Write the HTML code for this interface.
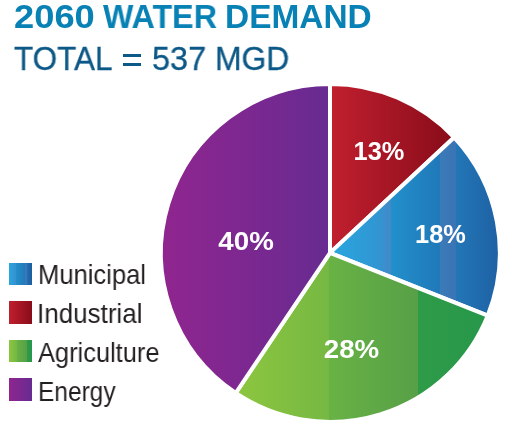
<!DOCTYPE html>
<html><head><meta charset="utf-8">
<style>
html,body{margin:0;padding:0;background:#fff;width:505px;height:422px;overflow:hidden;position:relative;font-family:"Liberation Sans",sans-serif;}
.w{will-change:transform;position:absolute;white-space:nowrap;line-height:1;transform-origin:0 0;}
.t1{font-weight:bold;color:#0881b5;}
.t2{color:#0c5886;-webkit-text-stroke:0.3px #0c5886;}
.lb{color:#231f20;}
.sw{position:absolute;left:9px;width:23px;height:22px;}
svg{position:absolute;left:0;top:0;will-change:transform;}
.pct{font-family:"Liberation Sans",sans-serif;font-weight:bold;fill:#fff;}
</style></head><body>

<span class="w t1" style="left:14px;top:-0.2px;font-size:33px;transform:scaleX(1.1);">2060</span>
<span class="w t1" style="left:103.3px;top:-0.2px;font-size:33px;transform:scaleX(0.976);">WATER</span>
<span class="w t1" style="left:225.3px;top:-0.2px;font-size:33px;transform:scaleX(1.013);">DEMAND</span>
<span class="w t2" style="left:14.2px;top:42px;font-size:33.4px;transform:scaleX(0.942);">TOTAL</span>
<span class="w t2" style="left:152px;top:42px;font-size:33.4px;transform:scaleX(0.971);">537</span>
<span class="w t2" style="left:215.3px;top:42px;font-size:33.4px;transform:scaleX(0.953);">MGD</span>
<div style="position:absolute;left:122.9px;top:53.9px;width:18.2px;height:2.8px;background:#0c5886;"></div>
<div style="position:absolute;left:122.9px;top:63.1px;width:18.2px;height:2.8px;background:#0c5886;"></div>

<div class="sw" style="top:263px;height:22px;background:linear-gradient(90deg,#29a5de 0%,#3196d3 25%,#3a8fcc 29%,#2490cb 29.5%,#2479b9 69%,#3b7ab8 69.5%,#3a74b4 77%,#2271b3 77.5%,#1c5c9f 100%);"></div>
<div class="sw" style="top:301px;height:23px;background:linear-gradient(90deg,#c01f2e,#890c1a);"></div>
<div class="sw" style="top:340px;height:22px;background:linear-gradient(90deg,#8dc63f 0%,#76b843 33%,#68b245 33.5%,#57a047 77%,#2e9b48 77.5%,#27974a 100%);"></div>
<div class="sw" style="top:378px;height:23px;background:linear-gradient(90deg,#90258f,#672b91);"></div>

<span class="w lb" style="left:38.0px;top:260.85px;font-size:27.5px;transform:scaleX(0.93);">Municipal</span>
<span class="w lb" style="left:37.2px;top:299.55px;font-size:27.5px;transform:scaleX(0.945);">Industrial</span>
<span class="w lb" style="left:38.2px;top:338.85px;font-size:27.5px;transform:scaleX(0.924);">Agriculture</span>
<span class="w lb" style="left:38px;top:377.75px;font-size:27.5px;transform:scaleX(0.89);">Energy</span>

<svg width="505" height="422" viewBox="0 0 505 422">
<defs>
<linearGradient id="gr" gradientUnits="userSpaceOnUse" x1="332" y1="0" x2="452" y2="0"><stop offset="0" stop-color="#c01f2e"/><stop offset="1" stop-color="#890c1a"/></linearGradient>
<linearGradient id="gb" gradientUnits="userSpaceOnUse" x1="333" y1="0" x2="497" y2="0">
<stop offset="0" stop-color="#29a5de"/>
<stop offset="0.2744" stop-color="#3196d3"/>
<stop offset="0.3506" stop-color="#4389c7"/>
<stop offset="0.3537" stop-color="#2290cb"/>
<stop offset="0.6494" stop-color="#2079b9"/>
<stop offset="0.6524" stop-color="#3b7ab8"/>
<stop offset="0.7500" stop-color="#3a74b4"/>
<stop offset="0.7530" stop-color="#2376b6"/>
<stop offset="1" stop-color="#1e62a5"/>
</linearGradient>
<linearGradient id="gg" gradientUnits="userSpaceOnUse" x1="237" y1="0" x2="485" y2="0">
<stop offset="0" stop-color="#8dc63f"/>
<stop offset="0.3710" stop-color="#76b843"/>
<stop offset="0.3730" stop-color="#68b245"/>
<stop offset="0.7278" stop-color="#57a047"/>
<stop offset="0.7298" stop-color="#2e9b48"/>
<stop offset="1" stop-color="#27974a"/>
</linearGradient>
<linearGradient id="gp" gradientUnits="userSpaceOnUse" x1="163" y1="0" x2="330" y2="0"><stop offset="0" stop-color="#90258f"/><stop offset="1" stop-color="#672b91"/></linearGradient>
</defs>
<g stroke="#fff" stroke-width="4" stroke-linejoin="miter">
<path fill="url(#gr)" d="M330.0,252.9 L330.00,83.90 A169.4,169.0 0 0 1 454.09,137.43 Z"/>
<path fill="url(#gb)" d="M330.0,252.9 L454.09,137.43 A169.4,169.0 0 0 1 487.69,315.66 Z"/>
<path fill="url(#gg)" d="M330.0,252.9 L487.69,315.66 A169.4,169.0 0 0 1 235.67,393.01 Z"/>
<path fill="url(#gp)" d="M330.0,252.9 L235.67,393.01 A169.4,169.0 0 0 1 330.00,83.90 Z"/>
</g>
<text class="pct" font-size="25.5" x="379" y="160" text-anchor="middle" textLength="50.8" lengthAdjust="spacingAndGlyphs">13%</text>
<text class="pct" font-size="25.5" x="440.5" y="243.3" text-anchor="middle" textLength="50.8" lengthAdjust="spacingAndGlyphs">18%</text>
<text class="pct" font-size="25.5" x="351.5" y="357.5" text-anchor="middle" textLength="55.5" lengthAdjust="spacingAndGlyphs">28%</text>
<text class="pct" font-size="25.5" x="246.1" y="249.8" text-anchor="middle" textLength="55.5" lengthAdjust="spacingAndGlyphs">40%</text>
</svg>
</body></html>
